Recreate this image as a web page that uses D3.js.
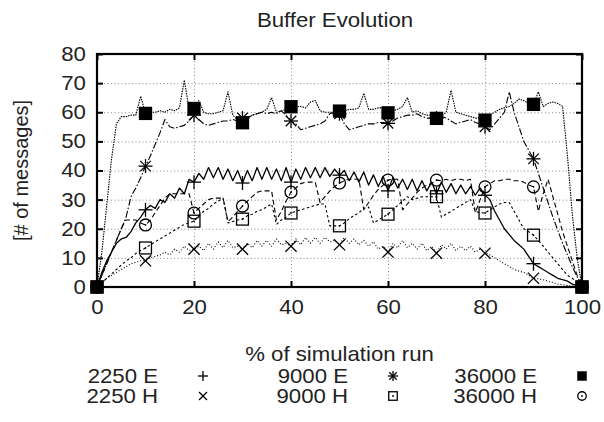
<!DOCTYPE html>
<html><head><meta charset="utf-8">
<script src="https://cdn.jsdelivr.net/npm/d3@7"></script>
<style>
html,body{margin:0;padding:0;background:#fff;}
svg{display:block;font-family:"Liberation Sans",Arial,Helvetica,sans-serif;}
</style></head>
<body>
<svg id="chart" width="604" height="422"></svg>
<script>
// ---------- data ----------
const title = "Buffer Evolution";
const xLabel = "% of simulation run";
const yLabel = "[# of messages]";
const xTicks = [0, 20, 40, 60, 80, 100];
const yTicks = [0, 10, 20, 30, 40, 50, 60, 70, 80];
const pct = d3.range(0, 101);            // sample positions, % of run
const markerPct = [0, 10, 20, 30, 40, 50, 60, 70, 80, 90, 100];

const s2250E = [0,5,9,12,15,16.5,17,19,22,24, 26.5,28,27,30,29,32,30.5,34,32,37,
  36,39,37,41,37.5,41,37,40.5,36.5,40, 35.7,40,36.5,41,37,41,37,40.5,36.5,41,
  36,40.5,37,41,37.5,41,37.5,41,38,40.5, 38.4,40,36.5,39.5,36,39.5,35,38.5,34.5,38,
  33,37.5,34,37,33.5,37,33,36.5,33,36, 32,36,32.5,35.5,32,35,32,34.5,31.5,34,
  31.5,30,26,23,20,18,16,14.5,13,10.5, 8,7,6,5,4,3,2.5,2,1,0.5, 0];
const s2250H = [0,1.5,3,4,5,6,7,8,8.5,9, 9,10,10.5,11,12,11,13,12,14,12.5,
  13,14,12.5,15,13,15.5,13.5,16,13.5,14, 13,15,13.5,16,14,16,14,16.5,14.5,15,
  14,16.5,14.5,17,15,17,15,17,15.5,16, 14.5,17,15,16.5,14.5,16,14,15.5,13,14,
  12,15,13.5,16,13.5,15,13,15,12.5,14, 11.6,14.5,13,15,12.5,14,12.5,14,12,13,
  11.6,11,10,9,8,7,6,5.5,5,4, 3,2.8,2.5,2,1.5,1,0.8,0.5,0.3,0.1, 0];
const s9000E = [0,4,8,12,16,20,24,31,34,37.5, 41.5,45,49,53,57.5,55,54.5,55,55.5,57,
  59,57.5,56,55.5,56,56.5,57,57,57.5,57, 58,58,59,59.5,60,59.5,60,59.5,60.5,59,
  57,56,54,54.5,55,55.5,56,57,59.5,60, 59.5,56,54,54.5,55,55.5,56,56,56.5,56.5,
  56.2,57,58,58.5,59,59,59.5,58.5,58,58, 58,58.5,58,57,56,56.5,57,57.5,56.5,56,
  55,54,56,58,60,67,60,55,50,47, 44,39,34,29,24,19.5,15,11,7,3.5, 0];
const s9000H = [0,1.5,3,4.5,6,7.5,9,10,11.5,12.5, 13.4,14.5,15.5,16.5,17.5,18.5,19.5,20.5,21.5,22,
  22.6,24.5,26,27,28.5,29.5,30.5,22,22.5,23, 23.3,24.5,25,26,26.5,27.5,28.5,21.5,23,24,
  25.4,26,26.5,27,27.5,28,28.5,28.5,21,21, 21,22,23.5,24.5,25.5,27,27.5,22,23,24,
  25,26.5,28,29.5,31,30,30.5,31,31,31, 31,24,25,26,27,28,29,30,26,25.5,
  25.4,26.5,27.5,28.5,29,29,26,23,20,19, 17.8,16,14,12,10,8,6,4,3,1.5, 0];
const s36000E = [0,12,28,44,56,58.5,58.5,59,59,65.5, 59.6,60,60,60.5,60,61,60.5,61.5,71,61,
  61.3,64,60,59.5,59.5,60,60.5,67,59,57.5, 56.4,58,59,59.5,60,61,65,60,60.5,61,
  61.9,62,62,61.5,63.5,64,60.5,60,60,60, 60.4,60.5,61,61,61.5,66.5,61,61,61.5,61.5,
  59.8,60.5,61,62,65,60,60.5,59.5,59,59, 57.9,58.5,60,67.5,60,59.5,59,58.5,58,58,
  57.3,59,60,61,61.5,62,63,64.5,64,63, 62.7,67,62,63,63.5,63,62,45,25,10, 0];
const s36000H = [0,4,8,12,16,20,23,23,23,22, 21.3,23,25.5,28,30.5,32,32,32,32,32,
  25.4,27,28.5,30,30.5,30.5,30.5,22.5,24,26, 27.8,29.5,31,32.5,33,33,33,23,26,29.5,
  32.6,34,35.5,36,36,36,29,31,33,34.5, 35.7,36.5,37,37,37,26.5,29,31.5,33.5,35,
  36.7,37,37,26.5,28.5,30.5,32.5,34,35,35.5, 36.7,36.5,37,36.5,37,37,36.5,37,25.5,30,
  34.4,35.5,36.5,36.5,37,37,36.5,36.5,36,35, 34.4,26,32,37,31,25,19,14,9,4, 0];

const seriesNames = ["2250 E","2250 H","9000 E","9000 H","36000 E","36000 H"];
const seriesValues = [s2250E, s2250H, s9000E, s9000H, s36000E, s36000H];

// ---------- styles ----------
const dashes = [null, "1,2", "7,2,1.5,2", "2.5,2.5", "1.5,1", "5,3"];
const markers = ["plus","cross","star","box","fillbox","circle"];
const legendOrder = [0,2,4,1,3,5];
const SX = 1.11;   // horizontal stretch of the glyphs in the reference

// ---------- layout ----------
const svg = d3.select("#chart");
const L = 97, R = 582, T = 54, B = 287;
const x = d3.scaleLinear().domain([0,100]).range([L,R]);
const y = d3.scaleLinear().domain([0,80]).range([B,T]);
const FS = 20;

// grid
const grid = svg.append("g").attr("stroke","#888").attr("stroke-width",1).attr("stroke-dasharray","1,2.5");
yTicks.filter(v=>v>0&&v<80).forEach(v=>grid.append("line").attr("x1",L).attr("x2",R).attr("y1",y(v)+.5).attr("y2",y(v)+.5));
xTicks.filter(v=>v>0&&v<100).forEach(v=>grid.append("line").attr("y1",T).attr("y2",B).attr("x1",x(v)+.5).attr("x2",x(v)+.5));

// axes
const ax = svg.append("g");
function styleAxis(g){ g.select(".domain").remove(); g.selectAll(".tick line").attr("stroke","#000").attr("stroke-width",2);
  g.selectAll("text").attr("fill","#222").attr("font-family","Liberation Sans, Arial, sans-serif").attr("font-size",FS).attr("transform",`scale(${SX},1)`); }
ax.append("g").attr("transform",`translate(${L},0)`).call(d3.axisLeft(y).tickValues(yTicks).tickSize(-6).tickPadding(10)).call(styleAxis);
ax.append("g").attr("transform",`translate(${R},0)`).call(d3.axisRight(y).tickValues(yTicks).tickSize(-6).tickFormat("")).call(styleAxis);
ax.append("g").attr("transform",`translate(0,${B})`).call(d3.axisBottom(x).tickValues(xTicks).tickSize(-6).tickPadding(13)).call(styleAxis);
ax.append("g").attr("transform",`translate(0,${T})`).call(d3.axisTop(x).tickValues(xTicks).tickSize(-6).tickFormat("")).call(styleAxis);

// lines
const lineGen = d3.line().x((d,i)=>x(pct[i])).y(d=>y(d));
const lg = svg.append("g");
seriesValues.forEach((vals,k)=>{
  lg.append("path").datum(vals).attr("d",lineGen).attr("fill","none").attr("stroke","#000")
    .attr("stroke-width", k===0?1.3:1.1).attr("stroke-dasharray",dashes[k]).attr("stroke-linejoin","round");
});

// markers
function marker(g,type,cx,cy,s){
  const h=s/2;
  const ln=(x1,y1,x2,y2)=>g.append("line").attr("x1",x1).attr("y1",y1).attr("x2",x2).attr("y2",y2).attr("stroke","#000").attr("stroke-width",1.3);
  if(type==="plus"){ln(cx-h,cy,cx+h,cy);ln(cx,cy-h,cx,cy+h);}
  else if(type==="cross"){const c=h*0.8;ln(cx-c,cy-c,cx+c,cy+c);ln(cx-c,cy+c,cx+c,cy-c);}
  else if(type==="star"){ln(cx-h,cy,cx+h,cy);ln(cx,cy-h,cx,cy+h);const c=h*0.75;ln(cx-c,cy-c,cx+c,cy+c);ln(cx-c,cy+c,cx+c,cy-c);}
  else if(type==="box"){const r=h*0.85;g.append("rect").attr("x",cx-r).attr("y",cy-r).attr("width",2*r).attr("height",2*r).attr("fill","none").attr("stroke","#000").attr("stroke-width",1.3);
    g.append("circle").attr("cx",cx).attr("cy",cy).attr("r",0.9).attr("fill","#000");}
  else if(type==="fillbox"){const r=h*0.95;g.append("rect").attr("x",cx-r).attr("y",cy-r).attr("width",2*r).attr("height",2*r).attr("fill","#000");}
  else if(type==="circle"){g.append("circle").attr("cx",cx).attr("cy",cy).attr("r",h*0.85).attr("fill","none").attr("stroke","#000").attr("stroke-width",1.3);
    g.append("circle").attr("cx",cx).attr("cy",cy).attr("r",0.9).attr("fill","#000");}
}
const mg = svg.append("g");
seriesValues.forEach((vals,k)=>{
  markerPct.forEach(p=>marker(mg,markers[k],x(p),y(vals[pct.indexOf(p)]),14));
});

// frame
svg.append("rect").attr("x",L).attr("y",T).attr("width",R-L).attr("height",B-T).attr("fill","none").attr("stroke","#000").attr("stroke-width",2.2);

// titles
function stretchedText(px,py,str,size,anchor){
  return svg.append("text").attr("transform",`translate(${px},${py}) scale(${SX},1)`)
    .attr("text-anchor",anchor).attr("font-size",size).attr("fill","#222").text(str);
}
stretchedText(335,27,title,20,"middle");
stretchedText((L+R)/2,361,xLabel,FS,"middle");
svg.append("text").attr("transform",`translate(28,${(T+B)/2}) rotate(-90)`).attr("text-anchor","middle").attr("font-size",FS).attr("fill","#222").text(yLabel);

// legend
const legTextX = [158, 348, 537], legSymX = [203, 393, 582], legY = [383, 403];
const leg = svg.append("g");
legendOrder.forEach(k=>{
  const col = Math.floor(k/2), row = k%2;
  stretchedText(legTextX[col],legY[row],seriesNames[k],FS,"end");
  marker(leg,markers[k],legSymX[col],legY[row]-7,10);
});
</script>
</body></html>
